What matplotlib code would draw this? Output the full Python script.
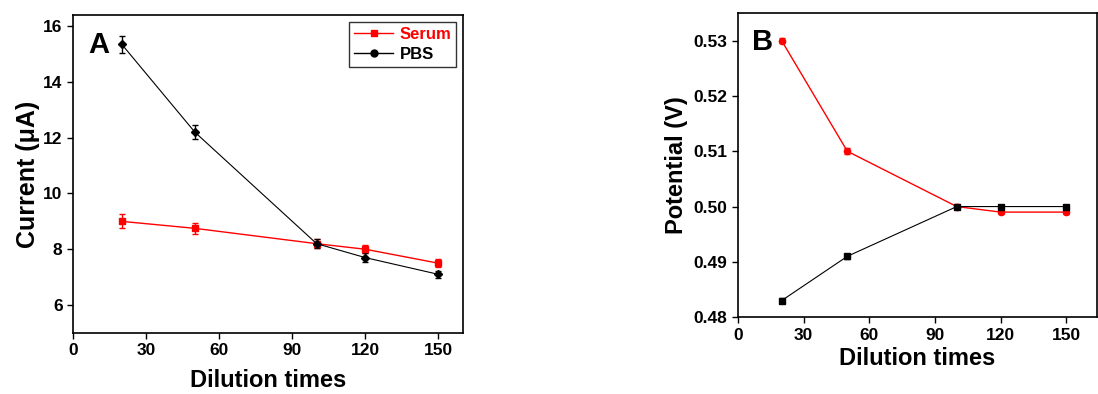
import matplotlib
matplotlib.use("Agg")
import matplotlib.pyplot as plt
from matplotlib.lines import Line2D

plt.rcParams['font.family'] = ['Liberation Sans', 'DejaVu Sans']
plt.rcParams['font.weight'] = 'bold'

dilution = [20, 50, 100, 120, 150]

# panel A: current
serum_i = [9.0, 8.75, 8.2, 8.0, 7.5]
serum_i_err = [0.25, 0.2, 0.15, 0.15, 0.15]
pbs_i = [15.35, 12.2, 8.2, 7.7, 7.1]
pbs_i_err = [0.3, 0.25, 0.15, 0.15, 0.12]

# panel B: potential
serum_v = [0.530, 0.510, 0.500, 0.499, 0.499]
serum_v_err = [0.0005, 0.0005, 0.0005, 0.0004, 0.0004]
pbs_v = [0.483, 0.491, 0.500, 0.500, 0.500]
pbs_v_err = [0.0005, 0.0005, 0.0003, 0.0003, 0.0003]

xticks = [0, 30, 60, 90, 120, 150]

fig = plt.figure(figsize=(10.98, 3.94), dpi=100)
axA = fig.add_axes([0.0665, 0.155, 0.355, 0.807])
axB = fig.add_axes([0.672, 0.195, 0.327, 0.772])

axA.errorbar(dilution, serum_i, yerr=serum_i_err, color='red', marker='s', ms=5,
             lw=1, capsize=2.5, elinewidth=1)
axA.errorbar(dilution, pbs_i, yerr=pbs_i_err, color='black', marker='D', ms=4,
             lw=0.8, capsize=2.5, elinewidth=1)
axA.set_xlim(0, 160)
axA.set_ylim(5, 16.4)
axA.set_yticks([6, 8, 10, 12, 14, 16])
axA.set_ylabel('Current (\u03bcA)', fontsize=18, fontweight='bold', labelpad=2)
axA.text(0.04, 0.95, 'A', transform=axA.transAxes, fontsize=21,
         fontweight='bold', va='top')
handles = [Line2D([], [], color='red', marker='s', ms=5, lw=1),
           Line2D([], [], color='black', marker='o', ms=5, lw=1)]
leg = axA.legend(handles, ['Serum', 'PBS'], loc='upper right', fontsize=12,
                 frameon=True, fancybox=False, edgecolor='black',
                 handlelength=2.3, borderpad=0.3, labelspacing=0.3,
                 handletextpad=0.4, borderaxespad=0.4)
leg.get_frame().set_linewidth(1)
for txt, col in zip(leg.get_texts(), ['red', 'black']):
    txt.set_color(col)
    txt.set_fontweight('bold')

axB.errorbar(dilution, serum_v, yerr=serum_v_err, color='red', marker='o', ms=4.5,
             lw=1, capsize=2.5, elinewidth=1)
axB.errorbar(dilution, pbs_v, yerr=pbs_v_err, color='black', marker='s', ms=4.5,
             lw=0.8, capsize=2.5, elinewidth=1)
axB.set_xlim(0, 164)
axB.set_ylim(0.48, 0.535)
axB.set_yticks([0.48, 0.49, 0.50, 0.51, 0.52, 0.53])
axB.set_yticklabels(['0.48', '0.49', '0.50', '0.51', '0.52', '0.53'])
axB.set_ylabel('Potential (V)', fontsize=17, fontweight='bold', labelpad=4)
axB.text(0.04, 0.95, 'B', transform=axB.transAxes, fontsize=21,
         fontweight='bold', va='top')

for ax in (axA, axB):
    ax.set_xticks(xticks)
    ax.tick_params(direction='out', length=4, width=1, labelsize=12.5)
    for lab in ax.get_xticklabels() + ax.get_yticklabels():
        lab.set_fontweight('bold')
    for s in ax.spines.values():
        s.set_linewidth(1.2)

axA.set_xlabel('Dilution times', fontsize=17, fontweight='bold', labelpad=8)
axB.set_xlabel('Dilution times', fontsize=17, fontweight='bold', labelpad=3)

fig.savefig('out.png', dpi=100)
